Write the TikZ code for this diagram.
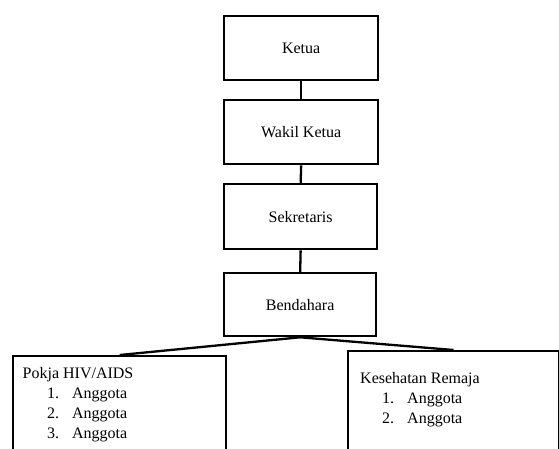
\documentclass[tikz,border=0pt]{standalone}
\usepackage{fontspec}
\setmainfont{Liberation Serif}
\begin{document}
\begin{tikzpicture}[x=1pt,y=-1pt,
  box/.style={draw,line width=2.3pt,inner sep=0pt,anchor=north west},
  conn/.style={line width=2.3pt},
  lbl/.style={font=\fontsize{16}{19}\selectfont,inner sep=0pt},
  item/.style={lbl,anchor=base west}]
\useasboundingbox (0,0) rectangle (559,448);
\node[box,minimum width=154pt,minimum height=64pt] (ketua) at (223,15) {};
\node[lbl] at (ketua.center) {Ketua};
\node[box,minimum width=154pt,minimum height=64pt] (wakil) at (223,99) {};
\node[lbl] at (wakil.center) {Wakil Ketua};
\node[box,minimum width=153pt,minimum height=65pt] (sek) at (223,183) {};
\node[lbl] at (sek.center) {Sekretaris};
\node[box,minimum width=152pt,minimum height=63pt] (bend) at (223,272) {};
\node[lbl] at (bend.center) {Bendahara};
\node[box,minimum width=213pt,minimum height=110pt] (pokja) at (12,355) {};
\node[box,minimum width=211pt,minimum height=115pt] (kes) at (347,350) {};
\draw[conn] (ketua.south) -- (wakil.north);
\draw[conn] (wakil.south) -- (sek.north);
\draw[conn] (sek.south) -- (bend.north);
\draw[conn] (bend.south) -- (pokja.north);
\draw[conn] (bend.south) -- (kes.north);
\node[item] (p0) at (22.5,378) {Pokja HIV/AIDS};
\node[item] (p1) at (47,398) {1.\hspace{13pt}Anggota};
\node[item] (p2) at (47,418) {2.\hspace{13pt}Anggota};
\node[item] (p3) at (47,438) {3.\hspace{13pt}Anggota};
\node[item] (k0) at (360,383) {Kesehatan Remaja};
\node[item] (k1) at (382,403) {1.\hspace{13pt}Anggota};
\node[item] (k2) at (382,423) {2.\hspace{13pt}Anggota};
\end{tikzpicture}
\end{document}
